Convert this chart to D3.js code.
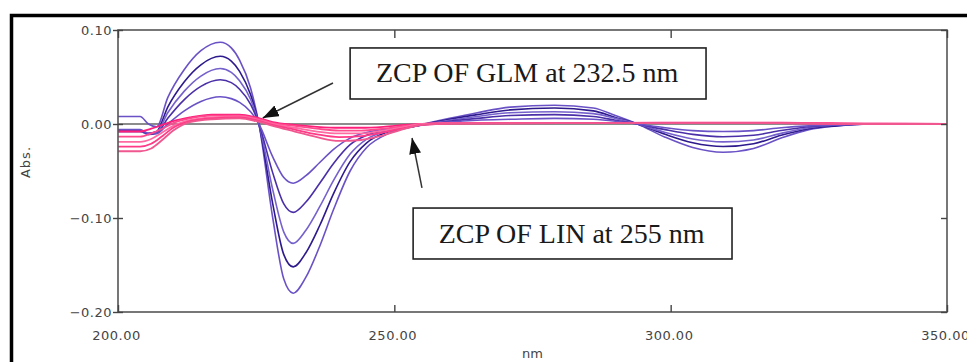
<!DOCTYPE html>
<html>
<head>
<meta charset="utf-8">
<script src="https://cdn.jsdelivr.net/npm/d3@7"></script>
<style>
  body { margin: 0; background: #fff; }
  svg { display: block; }
</style>
</head>
<body>
<div id="chart"></div>
<script>
// wavelength grid (nm) shared by the GLM (purple) derivative curves
const glmWavelengths = [200, 204, 205.5, 207, 209, 212, 215, 218.5, 220.5, 222, 224, 225.5, 228, 230, 231.7, 234, 236.5, 239, 242, 245, 249, 254, 260, 265, 271, 279, 286, 290, 294, 299, 304, 309.5, 315, 320, 325, 330, 336, 350];

const glm1 = [0.008, 0.008, 0.0, -0.003, 0.028, 0.058, 0.078, 0.087, 0.081, 0.068, 0.038, 0.0, -0.100, -0.165, -0.180, -0.163, -0.130, -0.091, -0.050, -0.025, -0.010, -0.002, 0.006, 0.012, 0.018, 0.020, 0.017, 0.009, 0.0, -0.014, -0.025, -0.030, -0.026, -0.015, -0.006, -0.002, 0.0, 0.0];
const glm2 = [-0.008, -0.008, -0.010, -0.008, 0.018, 0.045, 0.063, 0.072, 0.067, 0.056, 0.031, 0.0, -0.085, -0.139, -0.152, -0.137, -0.108, -0.074, -0.040, -0.020, -0.008, -0.002, 0.005, 0.010, 0.015, 0.017, 0.014, 0.007, 0.0, -0.011, -0.020, -0.024, -0.021, -0.012, -0.005, -0.002, 0.0, 0.0];
const glm3 = [-0.008, -0.008, -0.011, -0.009, 0.012, 0.035, 0.051, 0.059, 0.055, 0.046, 0.026, 0.0, -0.070, -0.115, -0.127, -0.113, -0.088, -0.060, -0.032, -0.016, -0.007, -0.002, 0.004, 0.008, 0.012, 0.013, 0.011, 0.006, 0.0, -0.009, -0.016, -0.019, -0.017, -0.010, -0.004, -0.001, 0.0, 0.0];
const glm4 = [-0.007, -0.007, -0.011, -0.010, 0.006, 0.026, 0.040, 0.047, 0.044, 0.037, 0.021, 0.0, -0.052, -0.085, -0.094, -0.083, -0.063, -0.042, -0.022, -0.012, -0.006, -0.002, 0.003, 0.006, 0.009, 0.010, 0.008, 0.004, 0.0, -0.006, -0.011, -0.0135, -0.012, -0.007, -0.003, -0.001, 0.0, 0.0];
const glm5 = [-0.006, -0.006, -0.010, -0.010, 0.0, 0.014, 0.024, 0.029, 0.027, 0.023, 0.013, 0.0, -0.035, -0.057, -0.063, -0.055, -0.041, -0.027, -0.015, -0.009, -0.005, -0.002, 0.002, 0.004, 0.005, 0.006, 0.005, 0.003, 0.0, -0.004, -0.007, -0.008, -0.007, -0.004, -0.002, -0.001, 0.0, 0.0];

// wavelength grid (nm) for the LIN (pink) derivative curves
const linWavelengths = [200, 204, 206, 208, 210, 213, 217, 222, 225, 228, 232, 236, 240, 244, 248, 252, 255, 260, 280, 300, 320, 335, 350];

const lin1 = [-0.008, -0.008, -0.005, -0.001, 0.003, 0.007, 0.010, 0.010, 0.007, 0.002, -0.001, -0.003, -0.004, -0.004, -0.003, -0.001, 0.0, 0.001, 0.001, 0.0015, 0.0015, 0.0005, 0.0];
const lin2 = [-0.0135, -0.0135, -0.010, -0.005, 0.001, 0.006, 0.009, 0.009, 0.006, 0.001, -0.002, -0.005, -0.007, -0.007, -0.005, -0.002, 0.0, 0.001, 0.001, 0.001, 0.001, 0.0005, 0.0];
const lin3 = [-0.019, -0.019, -0.016, -0.009, -0.002, 0.004, 0.007, 0.008, 0.005, 0.0, -0.004, -0.008, -0.010, -0.010, -0.007, -0.003, 0.0, 0.001, 0.001, 0.001, 0.001, 0.0, 0.0];
const lin4 = [-0.024, -0.024, -0.021, -0.013, -0.004, 0.003, 0.006, 0.007, 0.004, -0.001, -0.006, -0.011, -0.014, -0.013, -0.009, -0.004, -0.001, 0.0005, 0.001, 0.001, 0.001, 0.0, 0.0];
const lin5 = [-0.029, -0.029, -0.026, -0.017, -0.007, 0.002, 0.005, 0.006, 0.003, -0.002, -0.008, -0.014, -0.018, -0.017, -0.012, -0.005, -0.001, 0.0005, 0.001, 0.001, 0.001, 0.0, 0.0];

const xTicks = [200, 250, 300, 350];
const yTicks = [0.10, 0.00, -0.10, -0.20];
const annotationTexts = ['ZCP OF GLM at 232.5 nm', 'ZCP OF LIN at 255 nm'];

const width = 967;
const height = 362;
const margin = { top: 30, right: 20, bottom: 50, left: 118 };
const plotW = 947 - margin.left;
const plotH = 312 - margin.top;

const glmColors = ['#6a52c6', '#2e1a8c', '#7560cc', '#4a2fa8', '#6a52c6'];
const linColors = ['#ff1f7a', '#ff4a8e', '#ff6aa2', '#ff3a86', '#f0578f'];

const svg = d3.select('#chart').append('svg')
  .attr('width', width)
  .attr('height', height);

// outer black frame (cut off at right and bottom like the source figure)
svg.append('rect')
  .attr('x', 11.5).attr('y', 15.5)
  .attr('width', 1000).attr('height', 400)
  .attr('fill', 'none')
  .attr('stroke', '#000')
  .attr('stroke-width', 3.5);

const g = svg.append('g')
  .attr('transform', 'translate(' + margin.left + ',' + margin.top + ')');

const x = d3.scaleLinear().domain([200, 350]).range([0, plotW]);
const y = d3.scaleLinear().domain([-0.20, 0.10]).range([plotH, 0]);

svg.append('defs').append('clipPath').attr('id', 'plotclip')
  .append('rect').attr('width', plotW).attr('height', plotH);

// zero line
g.append('line')
  .attr('x1', 0).attr('x2', plotW)
  .attr('y1', y(0)).attr('y2', y(0))
  .attr('stroke', '#666')
  .attr('stroke-width', 1.5);

const curves = g.append('g').attr('clip-path', 'url(#plotclip)');

const line = d3.line()
  .x(d => x(d[0]))
  .y(d => y(d[1]))
  .curve(d3.curveMonotoneX);

[glm1, glm2, glm3, glm4, glm5].forEach((vals, i) => {
  curves.append('path')
    .datum(glmWavelengths.map((w, j) => [w, vals[j]]))
    .attr('d', line)
    .attr('fill', 'none')
    .attr('stroke', glmColors[i])
    .attr('stroke-width', 1.6);
});

[lin1, lin2, lin3, lin4, lin5].forEach((vals, i) => {
  curves.append('path')
    .datum(linWavelengths.map((w, j) => [w, vals[j]]))
    .attr('d', line)
    .attr('fill', 'none')
    .attr('stroke', linColors[i])
    .attr('stroke-width', 1.8);
});

// plot frame
g.append('rect')
  .attr('width', plotW).attr('height', plotH)
  .attr('fill', 'none')
  .attr('stroke', '#555')
  .attr('stroke-width', 1.6);

// axes
const tickFont = 'DejaVu Sans, Verdana, sans-serif';

const xAxis = g.append('g')
  .attr('transform', 'translate(0,' + plotH + ')')
  .call(d3.axisBottom(x).tickValues(xTicks).tickSize(-7).tickPadding(28).tickFormat(d3.format('.2f')));
xAxis.select('.domain').remove();

const xAxisTop = g.append('g')
  .call(d3.axisTop(x).tickValues(xTicks).tickSize(-8).tickFormat(''));
xAxisTop.select('.domain').remove();

const yAxis = g.append('g')
  .call(d3.axisLeft(y).tickValues(yTicks).tickSize(5).tickPadding(1).tickFormat(d3.format('.2f')));
yAxis.select('.domain').remove();
yAxis.selectAll('.tick line').attr('x2', 5).attr('x1', -5);

const yAxisRight = g.append('g')
  .attr('transform', 'translate(' + plotW + ',0)')
  .call(d3.axisRight(y).tickValues(yTicks).tickSize(-6).tickFormat(''));
yAxisRight.select('.domain').remove();

g.selectAll('.tick line').attr('stroke', '#444').attr('stroke-width', 1.4);
g.selectAll('.tick text')
  .attr('fill', '#444')
  .style('font-family', tickFont)
  .style('font-size', '13px')
  .style('letter-spacing', '0.5px');
xAxis.selectAll('.tick text').attr('dx', -2).attr('dy', 0);

// axis titles
svg.append('text')
  .attr('x', margin.left + plotW / 2)
  .attr('y', 358)
  .attr('text-anchor', 'middle')
  .attr('fill', '#444')
  .style('font-family', tickFont)
  .style('font-size', '13px')
  .text('nm');

svg.append('text')
  .attr('transform', 'translate(30,162) rotate(-90)')
  .attr('text-anchor', 'middle')
  .attr('fill', '#444')
  .style('font-family', tickFont)
  .style('font-size', '13px')
  .style('letter-spacing', '1px')
  .text('Abs.');

// annotations: boxes with callout arrows, placed in data coordinates
const annLayout = [
  { box: [242.0, 306.4, 0.0809, 0.0266], from: [238.9, 0.0436], to: [226.2, 0.0064] },
  { box: [253.4, 311.1, -0.0894, -0.1436], from: [255.0, -0.068], to: [253.2, -0.0149] }
];

svg.select('defs').append('marker')
  .attr('id', 'arrowhead')
  .attr('markerUnits', 'userSpaceOnUse')
  .attr('viewBox', '0 0 16 12')
  .attr('refX', 16).attr('refY', 6)
  .attr('markerWidth', 16).attr('markerHeight', 12)
  .attr('orient', 'auto')
  .append('path')
  .attr('d', 'M0,0 L16,6 L0,12 Z')
  .attr('fill', '#111');

annLayout.forEach((a, i) => {
  g.append('line')
    .attr('x1', x(a.from[0])).attr('y1', y(a.from[1]))
    .attr('x2', x(a.to[0])).attr('y2', y(a.to[1]))
    .attr('stroke', '#333')
    .attr('stroke-width', 1.5)
    .attr('marker-end', 'url(#arrowhead)');

  const bx = x(a.box[0]);
  const by = y(a.box[2]);
  const bw = x(a.box[1]) - bx;
  const bh = y(a.box[3]) - by;
  g.append('rect')
    .attr('x', bx).attr('y', by)
    .attr('width', bw).attr('height', bh)
    .attr('fill', '#fff')
    .attr('stroke', '#222')
    .attr('stroke-width', 1.6);
  g.append('text')
    .attr('x', bx + bw / 2 - 1)
    .attr('y', by + bh / 2 + 9)
    .attr('text-anchor', 'middle')
    .attr('fill', '#1a1a1a')
    .style('font-family', 'Liberation Serif, Times New Roman, serif')
    .style('font-size', '28px')
    .text(annotationTexts[i]);
});
</script>
</body>
</html>
